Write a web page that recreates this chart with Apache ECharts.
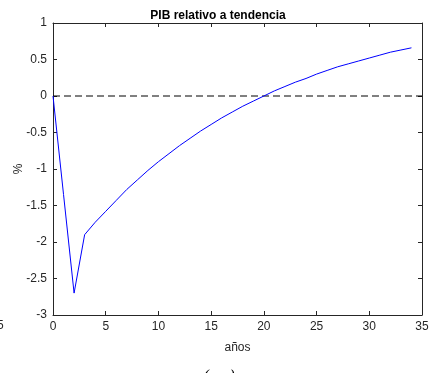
<!DOCTYPE html>
<html>
<head>
<meta charset="utf-8">
<script src="https://cdn.jsdelivr.net/npm/echarts@6/dist/echarts.min.js"></script>
<style>html,body{margin:0;padding:0;background:#fff}#c{width:436px;height:373px}</style>
</head>
<body>
<div id="c"></div>
<script>
// Data
var years = [0,1,2,3,4,5,6,7,8,9,10,11,12,13,14,15,16,17,18,19,20,21,22,23,24,25,26,27,28,29,30,31,32,33,34];
var pibValues = [0.00,-1.35,-2.70,-1.90,-1.73,-1.58,-1.43,-1.28,-1.15,-1.02,-0.90,-0.79,-0.68,-0.58,-0.48,-0.39,-0.30,-0.22,-0.14,-0.07,0.00,0.07,0.13,0.19,0.24,0.30,0.35,0.40,0.44,0.48,0.52,0.56,0.60,0.63,0.66];
var zeroLineX = [0, 35];
var zeroLineY = [0, 0];
var titleText = 'PIB relativo a tendencia';
var xLabel = 'años';
var yLabel = '%';
var panelLabel = '( a )';

var pibSeries = years.map(function(x, i){ return [x, pibValues[i]]; });
var zeroSeries = zeroLineX.map(function(x, i){ return [x, zeroLineY[i]]; });

var axisColor = '#262626';
var font = 'Liberation Sans, Arial, Helvetica, sans-serif';
var gridL = 53, gridR = 14, gridT = 23, gridB = 58;

var chart = echarts.init(document.getElementById('c'), null, {renderer: 'canvas'});
var axisBase = {
  axisLine: {show: true, onZero: false, lineStyle: {color: axisColor, width: 1}},
  axisTick: {show: true, inside: true, length: 4, lineStyle: {color: axisColor, width: 1}},
  splitLine: {show: false}
};
chart.setOption({
  animation: false,
  backgroundColor: '#fff',
  title: {
    text: titleText,
    left: 'center',
    top: 5,
    textStyle: {fontFamily: font, fontSize: 12, fontWeight: 'bold', color: '#000'}
  },
  grid: {left: gridL, right: gridR, top: gridT, bottom: gridB, containLabel: false, outerBoundsMode: 'none'},
  xAxis: [
    Object.assign({}, axisBase, {
      type: 'value', min: 0, max: 35, interval: 5, position: 'bottom',
      name: xLabel, nameLocation: 'middle', nameGap: 27, nameMoveOverlap: false,
      nameTextStyle: {fontFamily: font, fontSize: 12, color: axisColor},
      axisLabel: {fontFamily: font, fontSize: 12, color: axisColor, margin: 6}
    }),
    Object.assign({}, axisBase, {
      type: 'value', min: 0, max: 35, interval: 5, position: 'top',
      axisLabel: {show: false}
    })
  ],
  yAxis: [
    Object.assign({}, axisBase, {
      type: 'value', min: -3, max: 1, interval: 0.5, position: 'left',
      name: yLabel, nameLocation: 'middle', nameGap: 28, nameRotate: 90, nameMoveOverlap: false,
      nameTextStyle: {fontFamily: font, fontSize: 12, color: axisColor},
      axisLabel: {fontFamily: font, fontSize: 12, color: axisColor, margin: 6}
    }),
    Object.assign({}, axisBase, {
      type: 'value', min: -3, max: 1, interval: 0.5, position: 'right',
      axisLabel: {show: false}
    })
  ],
  graphic: [
    {type: 'text', left: -3, top: 320, style: {text: '5', font: '12px ' + font, fill: axisColor}},
    {type: 'text', left: 203, top: 370, style: {text: panelLabel, font: 'italic 16px DejaVu Serif, serif', fill: '#000'}}
  ],
  series: [
    {
      type: 'line', data: zeroSeries, xAxisIndex: 0, yAxisIndex: 0,
      symbol: 'none', silent: true,
      lineStyle: {color: '#000', width: 1, type: [7, 4]}
    },
    {
      type: 'line', data: pibSeries, xAxisIndex: 0, yAxisIndex: 0,
      symbol: 'none', silent: true,
      lineStyle: {color: '#0000ff', width: 1}
    }
  ]
});
</script>
</body>
</html>
